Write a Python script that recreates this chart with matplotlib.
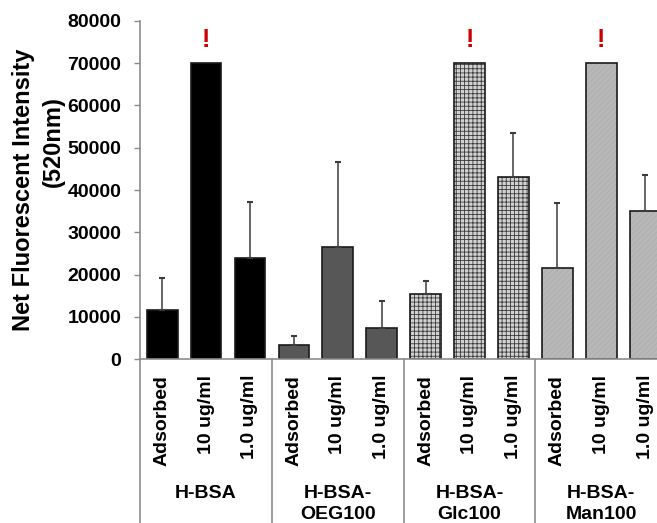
import matplotlib
matplotlib.use("Agg")
import matplotlib.pyplot as plt
import numpy as np

plt.rcParams['font.family'] = ['Liberation Sans', 'DejaVu Sans']
plt.rcParams['font.weight'] = 'bold'
plt.rcParams['hatch.linewidth'] = 0.6

# ---- data ----
groups = ["H-BSA", "H-BSA-\nOEG100", "H-BSA-\nGlc100", "H-BSA-\nMan100"]
conditions = ["Adsorbed", "10 ug/ml", "1.0 ug/ml"]
means_hbsa = [11600, 70000, 24000]
means_oeg = [3400, 26600, 7500]
means_glc = [15400, 70000, 43000]
means_man = [21600, 70000, 35000]
err_hbsa = [7700, 0, 13100]
err_oeg = [2200, 20100, 6300]
err_glc = [3100, 0, 10500]
err_man = [15400, 0, 8500]
saturated = [False, True, False, False, False, False,
             False, True, False, False, True, False]
yticks = [0, 10000, 20000, 30000, 40000, 50000, 60000, 70000, 80000]

means = [means_hbsa, means_oeg, means_glc, means_man]
errs = [err_hbsa, err_oeg, err_glc, err_man]

# fill style per group: (facecolor, hatch, hatch color)
styles = [
    ("#000000", None, "#000000"),
    ("#575757", None, "#575757"),
    ("#d2d2d2", "++++", "#3a3a3a"),
    ("#b8b8b8", "//////", "#aeaeae"),
]

fig = plt.figure(figsize=(6.57, 5.23), dpi=100)
ax = fig.add_axes([0.2134, 0.3130, 0.802, 0.6474])

n_cond = len(conditions)
x_all = []
for gi, (vals, er) in enumerate(zip(means, errs)):
    xs = np.arange(n_cond) + gi * n_cond
    fc, hatch, hc = styles[gi]
    for x, v in zip(xs, vals):
        b = ax.bar(x, v, width=0.7, color=fc, edgecolor="#1a1a1a",
                   linewidth=1.2, hatch=hatch, zorder=2)
        if hatch:
            b[0]._hatch_color = matplotlib.colors.to_rgba(hc)
    ex = [x for x, e in zip(xs, er) if e > 0]
    ev = [v for v, e in zip(vals, er) if e > 0]
    ee = [e for e in er if e > 0]
    ax.errorbar(ex, ev, yerr=[np.zeros(len(ee)), ee], fmt='none',
                ecolor="#3c3c3c", elinewidth=1.1, capsize=2, capthick=1.5,
                zorder=3)
    x_all.extend(xs)

# saturation markers
for x, v, s in zip(x_all, [v for g in means for v in g], saturated):
    if s:
        ax.text(x, v + 2600, "!", color="#cc0000", fontsize=18,
                fontweight='bold', ha='center', va='bottom')

ax.set_xlim(-0.5, len(x_all) - 0.5)
ax.set_ylim(0, 80000)
ax.set_yticks(yticks)
ax.set_yticklabels([str(t) for t in yticks], fontsize=14, fontweight='bold')
ax.tick_params(axis='y', direction='out', length=4.5, width=1,
               color="#8c8c8c", pad=9)
ax.set_xticks([])

for side in ("top", "right"):
    ax.spines[side].set_visible(False)
for side in ("left", "bottom"):
    ax.spines[side].set_color("#8c8c8c")
    ax.spines[side].set_linewidth(1.2)

trans = ax.get_xaxis_transform()

# condition labels under each bar
for x, lab in zip(x_all, conditions * len(groups)):
    ax.text(x, -0.046, lab, rotation=90, ha='center', va='top',
            fontsize=14, fontweight='bold', transform=trans)

# group labels and separators
for gi, g in enumerate(groups):
    cx = gi * n_cond + (n_cond - 1) / 2
    ax.text(cx, -0.371, g, ha='center', va='top', fontsize=14,
            fontweight='bold', linespacing=1.3, transform=trans)
for gi in range(len(groups) + 1):
    xb = gi * n_cond - 0.5
    ax.plot([xb, xb], [0, -0.6], color="#8c8c8c", lw=1.2,
            transform=trans, clip_on=False)

# y-axis title
fig.text(24 / 657, 1 - 190 / 523, "Net Fluorescent Intensity", rotation=90,
         ha='center', va='center', fontsize=17, fontweight='bold')
fig.text(53 / 657, 1 - 142 / 523, "(520nm)", rotation=90,
         ha='center', va='center', fontsize=17, fontweight='bold')

fig.savefig("out.png", dpi=100)
